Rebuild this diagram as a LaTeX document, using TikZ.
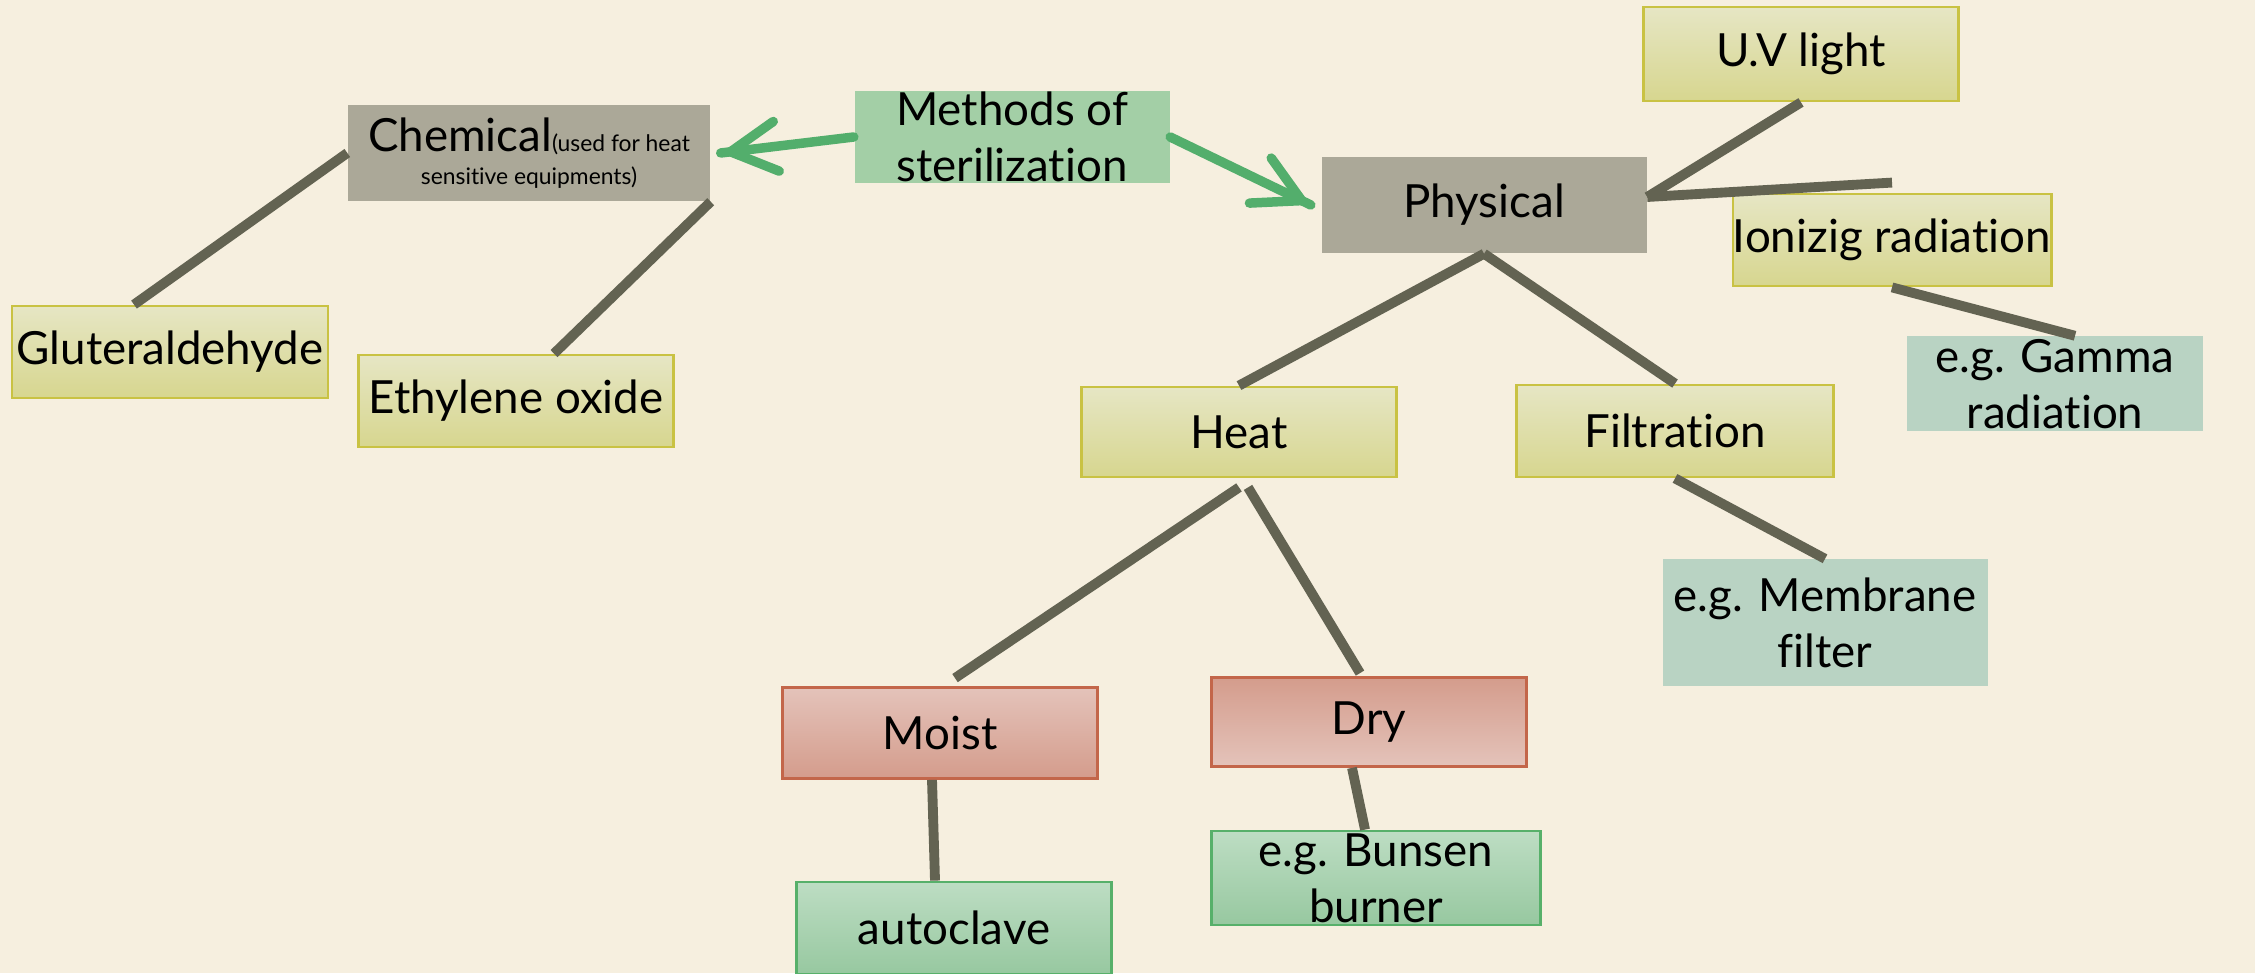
\documentclass[tikz,border=0pt]{standalone}
\usepackage{fontspec}
\setmainfont{Lato}[Ligatures=NoCommon]
\usetikzlibrary{decorations.markings,arrows.meta}
\definecolor{paper}{HTML}{F6EFDF}
\definecolor{greyfill}{HTML}{ABA898}
\definecolor{methfill}{HTML}{A3CFA6}
\definecolor{tealfill}{HTML}{B9D3C3}
\definecolor{yellowtop}{HTML}{E6E6C4}
\definecolor{yellowbot}{HTML}{D7D68F}
\definecolor{yellowline}{HTML}{C9C243}
\definecolor{pinklight}{HTML}{E4C3BA}
\definecolor{pinkdark}{HTML}{D49C8C}
\definecolor{pinkline}{HTML}{C3664A}
\definecolor{greentop}{HTML}{BDDDC3}
\definecolor{greenbot}{HTML}{97C8A0}
\definecolor{greenline}{HTML}{57B06A}
\definecolor{linkcol}{HTML}{636352}
\definecolor{arrowcol}{HTML}{53AE6C}

\begin{document}
\begin{tikzpicture}[font=\fontsize{13}{16}\selectfont,
  box/.style={inner sep=0pt, minimum width=3.15cm, minimum height=0.92cm, align=center},
  greybox/.style={box, fill=greyfill},
  methbox/.style={box, fill=methfill},
  tealbox/.style={box, fill=tealfill},
  yellowbox/.style={box, draw=yellowline, line width=0.8pt, top color=yellowtop, bottom color=yellowbot},
  pinkbox/.style={box, draw=pinkline, line width=0.8pt, minimum height=0.91cm},
  greenbox/.style={box, draw=greenline, line width=0.8pt, top color=greentop, bottom color=greenbot},
  link/.style={draw=linkcol, line width=2.8pt},
  greenarrow/.style={draw=arrowcol, line width=2.7pt, line cap=round,
    decoration={markings,mark=at position 1 with {\arrow[arrowcol]{Straight Barb[length=4.6mm,width=5mm,line cap=round]}}},
    postaction={decorate}}]
\fill[paper] (0,0) rectangle (22.55,9.73);
\useasboundingbox (0,0) rectangle (22.55,9.73);
\node[greybox, minimum width=3.62cm, minimum height=0.96cm, font=\fontsize{6.5}{9.4}\selectfont] (chemical) at (5.29,8.20) {{\fontsize{13}{16}\selectfont Chemical}(used for heat\\sensitive equipments)};
\node[methbox] (methods) at (10.12,8.36) {Methods of\\sterilization};
\node[greybox, minimum width=3.25cm, minimum height=0.96cm] (physical) at (14.84,7.68) {Physical};
\node[yellowbox, minimum height=0.94cm] (uvlight) at (18.01,9.19) {U.V light};
\node[yellowbox] (ionizing) at (18.92,7.33) {Ionizig radiation};
\node[tealbox, minimum width=2.96cm, minimum height=0.95cm] (gamma) at (20.55,5.89) {e.g. Gamma\\radiation};
\node[yellowbox, minimum width=3.16cm] (gluteraldehyde) at (1.70,6.21) {Gluteraldehyde};
\node[yellowbox] (ethylene) at (5.16,5.72) {Ethylene oxide};
\node[yellowbox, minimum height=0.90cm] (heat) at (12.39,5.41) {Heat};
\node[yellowbox, minimum width=3.17cm] (filtration) at (16.75,5.42) {Filtration};
\node[tealbox, minimum width=3.25cm, minimum height=1.27cm] (membrane) at (18.25,3.50) {e.g. Membrane\\filter};
\node[pinkbox, top color=pinklight, bottom color=pinkdark] (moist) at (9.40,2.40) {Moist};
\node[pinkbox, top color=pinkdark, bottom color=pinklight, minimum height=0.89cm] (dry) at (13.69,2.51) {Dry};
\node[greenbox] (autoclave) at (9.54,0.45) {autoclave};
\node[greenbox, minimum width=3.29cm, minimum height=0.94cm] (bunsen) at (13.76,0.95) {e.g. Bunsen\\burner};
\draw[link] (chemical.west) -- ([xshift=-3.6mm]gluteraldehyde.north);
\draw[link] (chemical.south east) -- ([xshift=3.8mm]ethylene.north);
\draw[link] ([yshift=0.8mm]physical.east) -- (uvlight.south);
\draw[link] ([yshift=0.8mm]physical.east) -- ([yshift=1mm]ionizing.north);
\draw[link] (ionizing.south) -- ([xshift=2mm]gamma.north);
\draw[link] (physical.south) -- (heat.north);
\draw[link] (physical.south) -- (filtration.north);
\draw[link] ([yshift=-0.9mm]heat.south) -- ([xshift=1.5mm,yshift=0.8mm]moist.north);
\draw[link] ([xshift=0.9mm,yshift=-0.9mm]heat.south) -- ([xshift=-0.9mm,yshift=0.3mm]dry.north);
\draw[link] (filtration.south) -- (membrane.north);
\draw[link] ([xshift=-0.8mm]moist.south) -- ([xshift=-1.9mm]autoclave.north);
\draw[link] ([xshift=-1.7mm]dry.south) -- ([xshift=-1.1mm]bunsen.north);
\draw[greenarrow] (methods.west) -- ([xshift=1mm]chemical.east);
\draw[greenarrow] (methods.east) -- ([xshift=-1mm]physical.west);
\end{tikzpicture}
\end{document}
